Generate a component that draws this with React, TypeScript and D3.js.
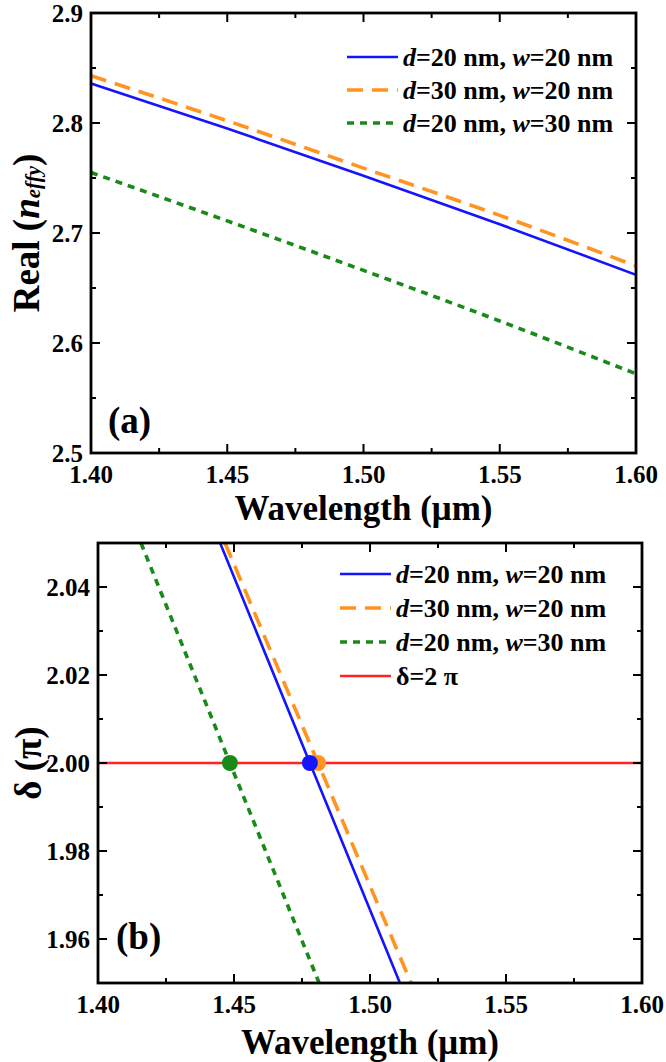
import React from "react";
import * as d3 from "d3";

// ---------- data ----------
const wavelengthA = [1.4, 1.45, 1.5, 1.55, 1.6];
const realD20W20 = [2.836, 2.795, 2.752, 2.708, 2.662];
const realD30W20 = [2.843, 2.802, 2.759, 2.716, 2.67];
const realD20W30 = [2.755, 2.711, 2.666, 2.62, 2.572];

const deltaLevels = [2.05, 2.0, 1.95];
const lambdaD20W20 = [1.4449, 1.4779, 1.511];
const lambdaD30W20 = [1.4467, 1.4809, 1.5151];
const lambdaD20W30 = [1.4158, 1.4485, 1.4813];
const crossLambda = [1.4485, 1.4809, 1.4779];
const crossDelta = 2.0;

const xTicks = [1.4, 1.45, 1.5, 1.55, 1.6];
const xMinor = [1.425, 1.475, 1.525, 1.575];
const yTicksA = [2.5, 2.6, 2.7, 2.8, 2.9];
const yMinorA = [2.55, 2.65, 2.75, 2.85];
const yTicksB = [1.96, 1.98, 2.0, 2.02, 2.04];
const yMinorB = [1.95, 1.97, 1.99, 2.01, 2.03, 2.05];

const legendNames = [
  ["20", "20"],
  ["30", "20"],
  ["20", "30"],
];

const BLUE = "#1414ff";
const ORANGE = "#ff9421";
const GREEN = "#198a19";
const RED = "#ff2323";
const FONT = "'Liberation Serif', 'Times New Roman', serif";

const seriesStyles = [
  { color: BLUE, width: 2.6, dash: undefined as string | undefined },
  { color: ORANGE, width: 3.6, dash: "16,9" },
  { color: GREEN, width: 3.6, dash: "7,6" },
];

type Frame = { x0: number; x1: number; y0: number; y1: number };

function Axes({
  fr,
  x,
  y,
  yTicks,
  yMinor,
  yFmt,
}: {
  fr: Frame;
  x: d3.ScaleLinear<number, number>;
  y: d3.ScaleLinear<number, number>;
  yTicks: number[];
  yMinor: number[];
  yFmt: (v: number) => string;
}) {
  const major = 9;
  const minor = 5;
  return (
    <g>
      {xTicks.map((t) => (
        <g key={"xt" + t}>
          <line x1={x(t)} x2={x(t)} y1={fr.y1} y2={fr.y1 - major} stroke="#000" strokeWidth={2} />
          <line x1={x(t)} x2={x(t)} y1={fr.y0} y2={fr.y0 + major} stroke="#000" strokeWidth={2} />
          <text
            x={x(t)}
            y={fr.y1 + 21}
            textAnchor="middle"
            dominantBaseline="central"
            fontSize={25}
            fontWeight="bold"
            fontFamily={FONT}
          >
            {t.toFixed(2)}
          </text>
        </g>
      ))}
      {xMinor.map((t) => (
        <g key={"xm" + t}>
          <line x1={x(t)} x2={x(t)} y1={fr.y1} y2={fr.y1 - minor} stroke="#000" strokeWidth={2} />
          <line x1={x(t)} x2={x(t)} y1={fr.y0} y2={fr.y0 + minor} stroke="#000" strokeWidth={2} />
        </g>
      ))}
      {yTicks.map((t) => (
        <g key={"yt" + t}>
          <line x1={fr.x0} x2={fr.x0 + major} y1={y(t)} y2={y(t)} stroke="#000" strokeWidth={2} />
          <line x1={fr.x1} x2={fr.x1 - major} y1={y(t)} y2={y(t)} stroke="#000" strokeWidth={2} />
          <text
            x={fr.x0 - 8}
            y={y(t)}
            textAnchor="end"
            dominantBaseline="central"
            fontSize={25}
            fontWeight="bold"
            fontFamily={FONT}
          >
            {yFmt(t)}
          </text>
        </g>
      ))}
      {yMinor.map((t) => (
        <g key={"ym" + t}>
          <line x1={fr.x0} x2={fr.x0 + minor} y1={y(t)} y2={y(t)} stroke="#000" strokeWidth={2} />
          <line x1={fr.x1} x2={fr.x1 - minor} y1={y(t)} y2={y(t)} stroke="#000" strokeWidth={2} />
        </g>
      ))}
      <rect
        x={fr.x0}
        y={fr.y0}
        width={fr.x1 - fr.x0}
        height={fr.y1 - fr.y0}
        fill="none"
        stroke="#000"
        strokeWidth={2.8}
      />
    </g>
  );
}

function LegendRow({
  x,
  y,
  style,
  children,
}: {
  x: number;
  y: number;
  style: { color: string; width: number; dash?: string };
  children: React.ReactNode;
}) {
  return (
    <g>
      <line
        x1={x}
        x2={x + 51}
        y1={y}
        y2={y}
        stroke={style.color}
        strokeWidth={style.width}
        strokeDasharray={style.dash}
      />
      <text
        x={x + 56}
        y={y}
        dominantBaseline="central"
        fontSize={26}
        fontWeight="bold"
        fontFamily={FONT}
      >
        {children}
      </text>
    </g>
  );
}

function legendLabel(d: string, w: string) {
  return (
    <>
      <tspan fontStyle="italic">d</tspan>
      <tspan>{`=${d} nm, `}</tspan>
      <tspan fontStyle="italic">w</tspan>
      <tspan>{`=${w} nm`}</tspan>
    </>
  );
}

export default function App() {
  const frA: Frame = { x0: 91, x1: 636, y0: 13, y1: 453 };
  const frB: Frame = { x0: 98, x1: 642, y0: 543, y1: 983 };

  const xA = d3.scaleLinear().domain([1.4, 1.6]).range([frA.x0, frA.x1]);
  const yA = d3.scaleLinear().domain([2.5, 2.9]).range([frA.y1, frA.y0]);
  const xB = d3.scaleLinear().domain([1.4, 1.6]).range([frB.x0, frB.x1]);
  const yB = d3.scaleLinear().domain([1.95, 2.05]).range([frB.y1, frB.y0]);

  const lineA = d3
    .line<[number, number]>()
    .x((d) => xA(d[0]))
    .y((d) => yA(d[1]))
    .curve(d3.curveMonotoneX);
  const lineB = d3
    .line<[number, number]>()
    .x((d) => xB(d[0]))
    .y((d) => yB(d[1]));

  const seriesA = [realD20W20, realD30W20, realD20W30].map((vals) =>
    wavelengthA.map((w, i) => [w, vals[i]] as [number, number])
  );
  const seriesB = [lambdaD20W20, lambdaD30W20, lambdaD20W30].map((lams) =>
    lams.map((l, i) => [l, deltaLevels[i]] as [number, number])
  );
  const crossColors = [GREEN, ORANGE, BLUE];

  return (
    <svg
      width={666}
      height={1062}
      style={{ position: "absolute", left: 0, top: 0, background: "#fff" }}
    >
      <defs>
        <clipPath id="clipA">
          <rect x={frA.x0} y={frA.y0} width={frA.x1 - frA.x0} height={frA.y1 - frA.y0} />
        </clipPath>
        <clipPath id="clipB">
          <rect x={frB.x0} y={frB.y0} width={frB.x1 - frB.x0} height={frB.y1 - frB.y0} />
        </clipPath>
      </defs>
      <rect x={0} y={0} width={666} height={1062} fill="#fff" />

      {/* Panel (a) */}
      <g clipPath="url(#clipA)">
        {[2, 1, 0].map((i) => (
          <path
            key={"a" + i}
            d={lineA(seriesA[i]) || ""}
            fill="none"
            stroke={seriesStyles[i].color}
            strokeWidth={seriesStyles[i].width}
            strokeDasharray={seriesStyles[i].dash}
          />
        ))}
      </g>
      <Axes fr={frA} x={xA} y={yA} yTicks={yTicksA} yMinor={yMinorA} yFmt={(v) => v.toFixed(1)} />
      {legendNames.map((n, i) => (
        <LegendRow key={"la" + i} x={347} y={57 + i * 33} style={seriesStyles[i]}>
          {legendLabel(n[0], n[1])}
        </LegendRow>
      ))}
      <text x={108} y={420} dominantBaseline="central" fontSize={37} fontWeight="bold" fontFamily={FONT}>
        (a)
      </text>
      <text
        x={(frA.x0 + frA.x1) / 2}
        y={508}
        textAnchor="middle"
        dominantBaseline="central"
        fontSize={35}
        fontWeight="bold"
        fontFamily={FONT}
      >
        Wavelength (μm)
      </text>
      <text
        transform={`translate(26, ${(frA.y0 + frA.y1) / 2}) rotate(-90)`}
        textAnchor="middle"
        dominantBaseline="central"
        fontSize={37}
        fontWeight="bold"
        fontFamily={FONT}
      >
        <tspan>Real (</tspan>
        <tspan fontStyle="italic">n</tspan>
        <tspan fontStyle="italic" fontSize={21} dy={7}>
          effy
        </tspan>
        <tspan dy={-7}>)</tspan>
      </text>

      {/* Panel (b) */}
      <g clipPath="url(#clipB)">
        <line
          x1={frB.x0}
          x2={frB.x1}
          y1={yB(crossDelta)}
          y2={yB(crossDelta)}
          stroke={RED}
          strokeWidth={2.6}
        />
        {[2, 1, 0].map((i) => (
          <path
            key={"b" + i}
            d={lineB(seriesB[i]) || ""}
            fill="none"
            stroke={seriesStyles[i].color}
            strokeWidth={seriesStyles[i].width}
            strokeDasharray={seriesStyles[i].dash}
          />
        ))}
        {crossLambda.map((l, i) => (
          <circle key={"c" + i} cx={xB(l)} cy={yB(crossDelta)} r={8} fill={crossColors[i]} />
        ))}
      </g>
      <Axes fr={frB} x={xB} y={yB} yTicks={yTicksB} yMinor={yMinorB} yFmt={(v) => v.toFixed(2)} />
      {legendNames.map((n, i) => (
        <LegendRow key={"lb" + i} x={340} y={574 + i * 34} style={seriesStyles[i]}>
          {legendLabel(n[0], n[1])}
        </LegendRow>
      ))}
      <LegendRow x={340} y={574 + 3 * 34} style={{ color: RED, width: 2.6 }}>
        δ=2 π
      </LegendRow>
      <text x={116} y={936} dominantBaseline="central" fontSize={37} fontWeight="bold" fontFamily={FONT}>
        (b)
      </text>
      <text
        x={(frB.x0 + frB.x1) / 2}
        y={1042}
        textAnchor="middle"
        dominantBaseline="central"
        fontSize={35}
        fontWeight="bold"
        fontFamily={FONT}
      >
        Wavelength (μm)
      </text>
      <text
        transform={`translate(28, ${(frB.y0 + frB.y1) / 2}) rotate(-90)`}
        textAnchor="middle"
        dominantBaseline="central"
        fontSize={37}
        fontWeight="bold"
        fontFamily={FONT}
      >
        δ (π)
      </text>
    </svg>
  );
}
